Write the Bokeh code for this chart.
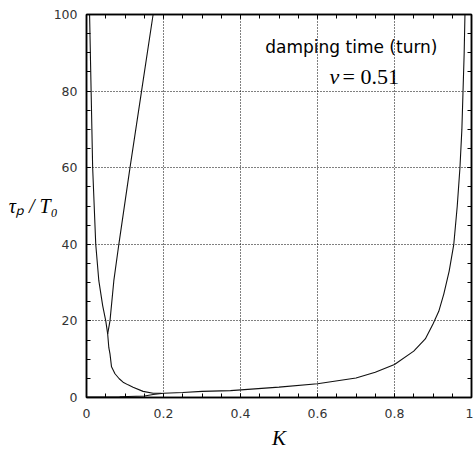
from bokeh.plotting import figure
from bokeh.models import LinearAxis, Range1d, SingleIntervalTicker, Label, CustomJSTickFormatter
from bokeh.embed import file_html
from bokeh.resources import INLINE

# ---- data ----
# branch descending from the upper left, through the V, down to K~0.2
k_a = [0.008, 0.012, 0.016, 0.024, 0.032, 0.042, 0.050, 0.055, 0.058, 0.061, 0.065,
       0.074, 0.085, 0.095, 0.108, 0.121, 0.147, 0.173, 0.195]
tau_a = [100, 80, 60, 40, 30.5, 24, 20, 16.6, 13, 11.4, 8,
         6.2, 4.9, 4.0, 3.3, 2.7, 1.6, 1.1, 1.1]
# branch rising from the V to the top
k_b = [0.055, 0.061, 0.071, 0.084, 0.113, 0.143, 0.173]
tau_b = [16.6, 20, 30.5, 40, 60, 80, 100]
# long branch along the bottom, rising near K=1
k_c = [0.0, 0.086, 0.151, 0.173, 0.2, 0.25, 0.3, 0.374, 0.5, 0.6, 0.7, 0.75, 0.8,
       0.85, 0.88, 0.9, 0.915, 0.928, 0.942, 0.954, 0.963, 0.97, 0.975, 0.978, 0.981, 0.983]
tau_c = [0.1, 0.2, 0.4, 0.8, 1.1, 1.3, 1.6, 1.8, 2.7, 3.6, 5.1, 6.6, 8.6,
         12.1, 15.3, 19.2, 22.5, 27, 33, 40, 50, 60, 70, 80, 90, 100]

x_tick_step = 0.2
y_tick_step = 20
x_label = "K"
y_label = "τₚ / T₀"
title_text = "damping time (turn)"
nu_symbol = "ν"
nu_value = "= 0.51"

p = figure(width=473, height=454, output_backend="svg", toolbar_location=None,
           x_range=Range1d(0, 1), y_range=Range1d(0, 100),
           min_border_left=86, min_border_right=2, min_border_top=14, min_border_bottom=57)
p.background_fill_color = "white"
p.border_fill_color = "white"
p.outline_line_color = "black"
p.outline_line_width = 1.5

xt = SingleIntervalTicker(interval=x_tick_step, num_minor_ticks=4)
yt = SingleIntervalTicker(interval=y_tick_step, num_minor_ticks=4)

blank = CustomJSTickFormatter(code="return '';")
top = LinearAxis(ticker=xt, formatter=blank)
right = LinearAxis(ticker=yt, formatter=blank)
p.add_layout(top, "above")
p.add_layout(right, "right")

p.xaxis.ticker = xt
p.yaxis.ticker = yt
p.xgrid.ticker = xt
p.ygrid.ticker = yt

for g in (p.xgrid, p.ygrid):
    g.grid_line_color = "black"
    g.grid_line_dash = "1 2"
    g.grid_line_width = 1

for ax in p.axis:
    ax.axis_line_color = "black"
    ax.axis_line_width = 1.5
    ax.major_tick_in = 4
    ax.major_tick_out = 0
    ax.minor_tick_in = 4
    ax.minor_tick_out = 0
    ax.major_tick_line_color = "black"
    ax.minor_tick_line_color = "black"
    ax.major_label_text_font = "DejaVu Sans"
    ax.major_label_text_font_size = "12.5px"
    ax.major_label_text_color = "#333333"

for ax in (top, right):
    ax.major_label_standoff = 0

bottom = p.below[0]
left = p.left[0]
bottom.major_label_standoff = 11
left.major_label_standoff = 9
bottom.formatter = CustomJSTickFormatter(code="return String(Math.round(tick*10)/10);")

bottom.axis_label = x_label
bottom.axis_label_text_font = "Liberation Serif"
bottom.axis_label_text_font_style = "italic"
bottom.axis_label_text_font_size = "21px"
bottom.axis_label_text_color = "black"
bottom.axis_label_standoff = 5

left.axis_label = y_label
left.axis_label_orientation = "horizontal"
left.axis_label_text_font = "Liberation Serif"
left.axis_label_text_font_style = "italic"
left.axis_label_text_font_size = "20px"
left.axis_label_text_color = "black"
left.axis_label_standoff = -7

p.line(k_a, tau_a, line_color="#111111", line_width=1.1)
p.line(k_b, tau_b, line_color="#111111", line_width=1.1)
p.line(k_c, tau_c, line_color="#111111", line_width=1.1)

def lab(x, y, text, font="Liberation Serif", style="normal", size="22px", align="left"):
    p.add_layout(Label(x=x, y=y, text=text, text_font=font,
                       text_font_style=style, text_font_size=size, text_align=align,
                       text_baseline="alphabetic", text_color="black"))

# annotations inside the frame
lab(0.9117, 91.4, title_text, font="DejaVu Sans", size="17px", align="right")
lab(0.631, 83.8, nu_symbol, style="italic", size="22px")
lab(0.665, 83.8, nu_value, size="22px")

open("out.html", "w").write(file_html(p, INLINE))
